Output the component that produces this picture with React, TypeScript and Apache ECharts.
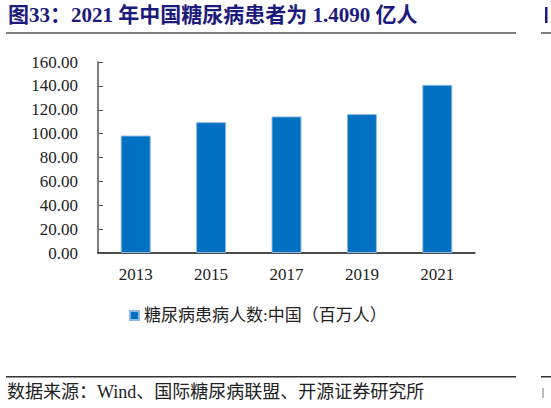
import { useEffect, useRef } from 'react';
import * as echarts from 'echarts';

const years = ['2013', '2015', '2017', '2019', '2021'];
const patients = [98.4, 109.6, 114.4, 116.4, 140.9];
const seriesName = '糖尿病患病人数:中国（百万人）';
const titleText = '图33：2021 年中国糖尿病患者为 1.4090 亿人';
const sourceText = '数据来源：Wind、国际糖尿病联盟、开源证券研究所';

const serif = "'Liberation Serif', 'Times New Roman', 'Noto Sans CJK SC', serif";
const navy = '#1c1a7c';

export default function App() {
  const ref = useRef<HTMLDivElement>(null);

  useEffect(() => {
    document.body.style.margin = '0';
    if (!ref.current) return;
    const chart = echarts.init(ref.current, undefined, { renderer: 'svg' });

    chart.setOption({
      animation: false,
      backgroundColor: '#fff',
      textStyle: { fontFamily: serif },
      grid: { left: 98, right: 76, top: 62, bottom: 155 },
      legend: {
        left: 124,
        top: 302,
        icon: 'rect',
        itemWidth: 9,
        itemHeight: 9,
        itemGap: 5,
        textStyle: { fontSize: 17, color: '#222', fontFamily: serif },
        data: [seriesName],
      },
      xAxis: {
        type: 'category',
        data: years,
        axisLine: { lineStyle: { color: '#111', width: 1.5 } },
        axisTick: { inside: true, length: 5, lineStyle: { color: '#555' } },
        axisLabel: { fontSize: 17, color: '#222', margin: 13, fontFamily: serif },
      },
      yAxis: {
        type: 'value',
        min: 0,
        max: 160,
        interval: 20,
        axisLine: { show: true, lineStyle: { color: '#555', width: 1.5 } },
        axisTick: { show: true, inside: true, length: 5, lineStyle: { color: '#555' } },
        splitLine: { show: false },
        axisLabel: {
          fontSize: 17,
          color: '#222',
          margin: 20,
          fontFamily: serif,
          formatter: (v: number) => v.toFixed(2),
        },
      },
      series: [
        {
          name: seriesName,
          type: 'bar',
          data: patients,
          barWidth: 30,
          itemStyle: { color: '#0070c0', borderColor: '#8fb8e6', borderWidth: 1 },
        },
      ],
      graphic: [
        {
          type: 'text',
          left: 8,
          top: 4,
          style: { text: titleText, fontSize: 21, fontWeight: 'bold', fill: navy, fontFamily: serif },
        },
        {
          type: 'rect',
          shape: { x: 6, y: 32, width: 510, height: 2 },
          style: { fill: '#7f7f7f' },
        },
        {
          // sliver of the next panel's title at the right edge
          type: 'rect',
          shape: { x: 545, y: 7, width: 2.5, height: 16 },
          style: { fill: navy },
        },
        {
          type: 'rect',
          shape: { x: 541, y: 32, width: 10, height: 2 },
          style: { fill: '#7f7f7f' },
        },
        {
          type: 'rect',
          shape: { x: 6, y: 376, width: 510, height: 1.5 },
          style: { fill: '#333' },
        },
        {
          type: 'rect',
          shape: { x: 541, y: 376, width: 10, height: 1.5 },
          style: { fill: '#333' },
        },
        {
          type: 'text',
          left: 7,
          top: 383,
          style: { text: sourceText, fontSize: 18, fill: '#222', fontFamily: serif },
        },
        {
          type: 'rect',
          shape: { x: 542, y: 388, width: 2, height: 10 },
          style: { fill: '#bbb' },
        },
      ],
    });

    return () => chart.dispose();
  }, []);

  return <div ref={ref} style={{ width: 551, height: 408 }} />;
}
